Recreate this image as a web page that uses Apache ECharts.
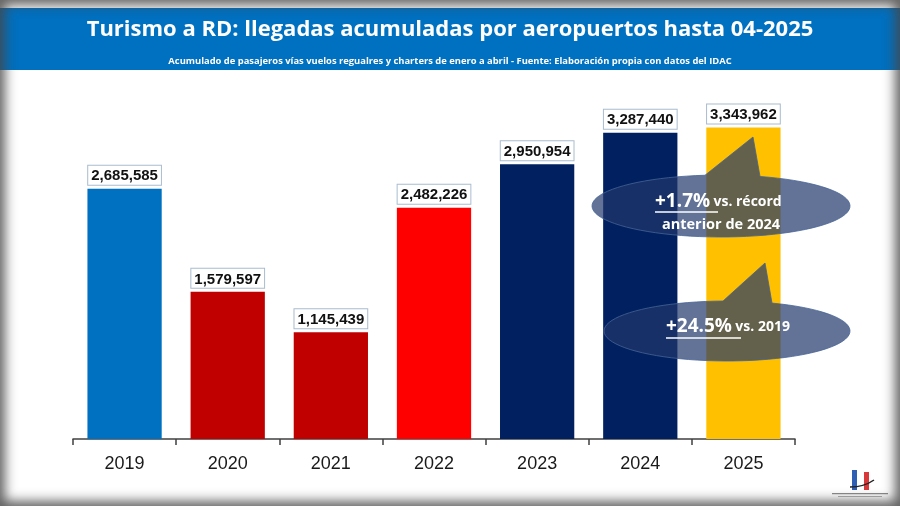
<!DOCTYPE html>
<html>
<head>
<meta charset="utf-8">
<script src="https://cdn.jsdelivr.net/npm/echarts@6.0.0/dist/echarts.min.js"></script>
<style>
  html, body { margin:0; padding:0; background:#fff; }
  #wrap { position:relative; width:900px; height:506px; background:#fff; }
  #main { width:900px; height:506px; }
  /* borde gris difuminado del marco */
  #frame { position:absolute; left:0; top:0; width:900px; height:506px; pointer-events:none;
           box-shadow: inset 0 0 12px 5px rgba(70,70,70,0.85); }
</style>
</head>
<body>
<div id="wrap">
  <div id="main"></div>
  <div id="frame"></div>
</div>
<script>
// datos: llegadas acumuladas enero-abril
var years = ['2019','2020','2021','2022','2023','2024','2025'];
var arrivals = [2685585, 1579597, 1145439, 2482226, 2950954, 3287440, 3343962];
var barColors = ['#0070C0','#C00000','#C00000','#FF0000','#002060','#002060','#FFC000'];

var titleText = 'Turismo a RD: llegadas acumuladas por aeropuertos hasta 04-2025';
var subText = 'Acumulado de pasajeros vías vuelos regualres y charters de enero a abril - Fuente: Elaboración propia con datos del IDAC';

var calloutFill = 'rgba(33,56,108,0.7)';
var calloutBorder = 'rgba(70,100,150,0.8)';

// contorno de globo (elipse + pico) como poligono
function calloutPoints(cx, cy, rx, ry, xl, xr, tipx, tipy){
	var pts = [[tipx, tipy]];
	var a0 = -Math.acos((xr - cx) / rx);
	var a1 = -Math.acos((xl - cx) / rx) + Math.PI * 2;
	var n = 80;
	for (var i = 0; i <= n; i++)
	{
		var a = a0 + (a1 - a0) * i / n;
		pts.push([cx + rx * Math.cos(a), cy + ry * Math.sin(a)]);
	}
	return pts;
}

var chart = echarts.init(document.getElementById('main'));

var barData = arrivals.map(function(v, i){
	return { value: v, itemStyle: { color: barColors[i] } };
});

var option = {
	backgroundColor: 'transparent',
	animation: false,
	title: [
		{
			text: titleText,
			left: 'center',
			top: 19,
			padding: 0,
			textStyle: { color:'#fff', fontSize:22, fontWeight:'bold', fontFamily:'Open Sans' }
		},
		{
			text: subText,
			left: 'center',
			top: 57,
			padding: 0,
			textStyle: { color:'#fff', fontSize:9.4, fontWeight:'bold', fontFamily:'Open Sans' }
		}
	],
	grid: {
		left: 73,
		right: 105,
		top: 113,
		bottom: 67
	},
	xAxis: {
		type: 'category',
		data: years,
		axisLine: { lineStyle: { color:'#404040', width:1.5 } },
		axisTick: { show:true, length:6, lineStyle: { color:'#404040', width:1.5 } },
		axisLabel: { color:'#1a1a1a', fontSize:18, margin:16, fontFamily:'Liberation Sans' }
	},
	yAxis: {
		type: 'value',
		min: 0,
		max: 3500000,
		show: false,
		splitLine: { show:false }
	},
	series: [
		{
			type: 'bar',
			data: barData,
			barCategoryGap: '28%',
			label: {
				show: true,
				position: 'top',
				distance: 4,
				formatter: function(p){ return p.value.toLocaleString('en-US'); },
				color: '#111',
				fontSize: 15,
				fontWeight: 'bold',
				fontFamily: 'Liberation Sans',
				backgroundColor: '#fff',
				borderColor: '#a9bccf',
				borderWidth: 1,
				padding: [3,3,1,3]
			}
		}
	],
	graphic: [
		// franja azul del titulo
		{
			type: 'rect', z: -10,
			shape: { x:0, y:8, width:900, height:62 },
			style: { fill:'#0070C0' }
		},
		// globo 1
		{
			type: 'polygon', z: 100,
			shape: { points: calloutPoints(721, 206, 129, 31, 705, 760, 753, 137) },
			style: { fill: calloutFill, stroke: calloutBorder, lineWidth: 1 }
		},
		{
			type: 'text', z: 101,
			x: 655, y: 202,
			style: {
				text: '{a|+1.7%} {b|vs. récord}',
				verticalAlign: 'middle',
				rich: {
					a: { fill:'#fff', fontSize:19, fontWeight:'bold', fontFamily:'Open Sans' },
					b: { fill:'#fff', fontSize:14, fontWeight:'bold', fontFamily:'Open Sans' }
				}
			}
		},
		{
			type: 'line', z: 101,
			shape: { x1:655, y1:212, x2:718, y2:212 },
			style: { stroke:'#fff', lineWidth:1.5 }
		},
		{
			type: 'text', z: 101,
			x: 721, y: 225,
			style: {
				text: 'anterior de 2024',
				align: 'center', verticalAlign: 'middle',
				fill: '#fff', fontSize: 14.5, fontWeight: 'bold', fontFamily: 'Open Sans'
			}
		},
		// globo 2
		{
			type: 'polygon', z: 100,
			shape: { points: calloutPoints(727, 331, 123, 30, 723, 772, 765, 263) },
			style: { fill: calloutFill, stroke: calloutBorder, lineWidth: 1 }
		},
		{
			type: 'text', z: 101,
			x: 666, y: 327,
			style: {
				text: '{a|+24.5%} {b|vs. 2019}',
				verticalAlign: 'middle',
				rich: {
					a: { fill:'#fff', fontSize:19, fontWeight:'bold', fontFamily:'Open Sans' },
					b: { fill:'#fff', fontSize:14, fontWeight:'bold', fontFamily:'Open Sans' }
				}
			}
		},
		{
			type: 'line', z: 101,
			shape: { x1:666, y1:338, x2:741, y2:338 },
			style: { stroke:'#fff', lineWidth:1.5 }
		},
		// logo pequeño abajo a la derecha
		{
			type: 'rect', z: 50,
			shape: { x:852, y:470, width:5, height:20 },
			style: { fill:'#2f5fb3' }
		},
		{
			type: 'rect', z: 50,
			shape: { x:864, y:472, width:5, height:18 },
			style: { fill:'#d9383a' }
		},
		{
			type: 'bezierCurve', z: 51,
			shape: { x1:850, y1:487, cpx1:864, cpy1:487, x2:874, y2:480 },
			style: { fill:'none', stroke:'#222', lineWidth:1.5 }
		},
		{
			type: 'rect', z: 50,
			shape: { x:832, y:493, width:56, height:1.2 },
			style: { fill:'#8a8a8a' }
		},
		{
			type: 'rect', z: 50,
			shape: { x:838, y:496, width:44, height:1 },
			style: { fill:'#b0b0b0' }
		}
	]
};

chart.setOption(option);
</script>
</body>
</html>
